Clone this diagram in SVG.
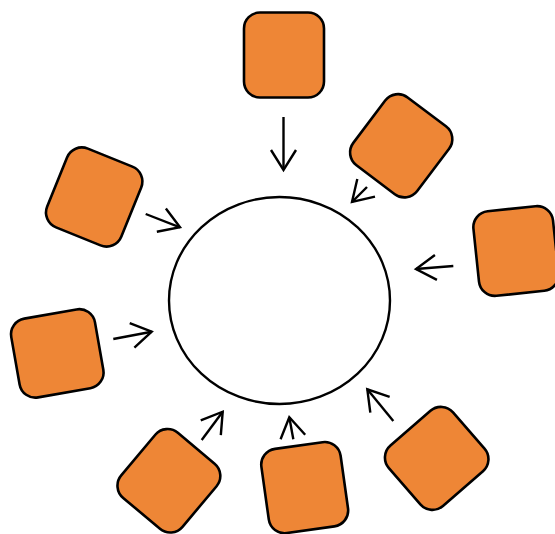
<svg xmlns="http://www.w3.org/2000/svg" width="555" height="534" viewBox="0 0 555 534">
  <style>
    .sq { fill: #EE8636; stroke: #000; stroke-width: 2.6; }
    .hub { fill: #fff; stroke: #000; stroke-width: 2.4; }
    .conn { fill: none; stroke: #000; stroke-width: 2.4; marker-end: url(#chev); }
  </style>
  <defs>
    <marker id="chev" markerUnits="userSpaceOnUse" orient="auto" refX="0" refY="0" markerWidth="30" markerHeight="30" overflow="visible">
      <path d="M-20,-12.5 L0,0 L-20,12.5" fill="none" stroke="#000" stroke-width="2.4"/>
    </marker>
  </defs>
  <rect width="555" height="534" fill="#fff"/>
  <g id="hub">
    <ellipse class="hub" cx="279.5" cy="300.5" rx="110.5" ry="103.5"/>
  </g>
  <g id="n-top"><rect class="sq" x="-40" y="-42.5" width="80" height="85" rx="16" transform="translate(284 55) rotate(0)"/></g>
  <g id="n-topright"><rect class="sq" x="-40" y="-42.5" width="80" height="85" rx="16" transform="translate(401.2 145.8) rotate(37)"/></g>
  <g id="n-right"><rect class="sq" x="-40" y="-42.5" width="80" height="85" rx="16" transform="translate(516 251) rotate(-6)"/></g>
  <g id="n-bottomright"><rect class="sq" x="-40" y="-42.5" width="80" height="85" rx="16" transform="translate(436.7 458.4) rotate(49)"/></g>
  <g id="n-bottom"><rect class="sq" x="-40" y="-42.5" width="80" height="85" rx="16" transform="translate(304.7 487.6) rotate(-8)"/></g>
  <g id="n-bottomleft"><rect class="sq" x="-40" y="-42.5" width="80" height="85" rx="16" transform="translate(168.9 480.8) rotate(40)"/></g>
  <g id="n-left"><rect class="sq" x="-42.5" y="-40" width="85" height="80" rx="16" transform="translate(57.3 353.4) rotate(-10)"/></g>
  <g id="n-topleft"><rect class="sq" x="-40" y="-42.5" width="80" height="85" rx="16" transform="translate(94.2 197) rotate(22)"/></g>
  <g id="connectors">
    <line class="conn" x1="283.5" y1="117" x2="283.5" y2="170"/>
    <line class="conn" x1="367" y1="187" x2="352" y2="202"/>
    <line class="conn" x1="145.7" y1="214" x2="180" y2="227.3"/>
    <line class="conn" x1="113.3" y1="339" x2="151.7" y2="331.7"/>
    <line class="conn" x1="453.3" y1="266" x2="416" y2="269"/>
    <line class="conn" x1="201.7" y1="440" x2="222.7" y2="411.7"/>
    <line class="conn" x1="293.3" y1="439.3" x2="289.3" y2="417.3"/>
    <line class="conn" x1="393.3" y1="421" x2="367.3" y2="389.3"/>
  </g>
</svg>
